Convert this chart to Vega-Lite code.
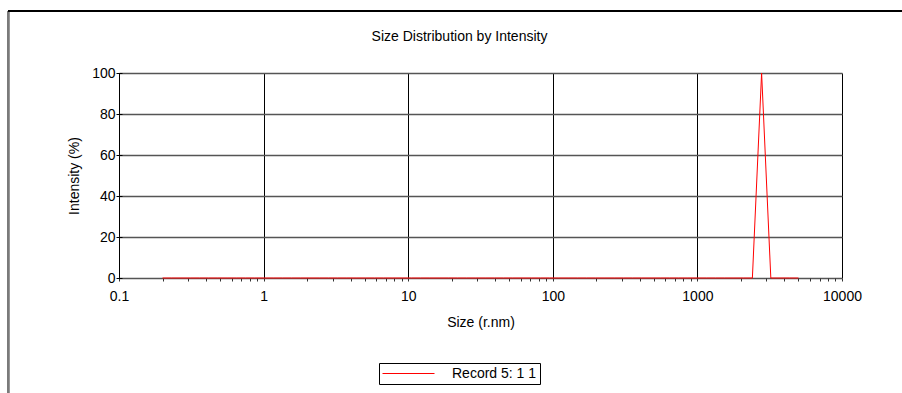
{
  "$schema": "https://vega.github.io/schema/vega-lite/v6.json",
  "width": 723,
  "height": 205,
  "autosize": {"type": "none"},
  "padding": {"left": 119, "top": 73, "right": 60, "bottom": 115},
  "background": "white",
  "config": {
    "view": {"stroke": null},
    "font": "Liberation Sans",
    "axis": {
      "labelFont": "Liberation Sans",
      "labelFontSize": 14,
      "labelColor": "#000000",
      "titleFont": "Liberation Sans",
      "titleFontSize": 14,
      "titleFontWeight": "normal",
      "titleColor": "#000000"
    }
  },
  "title": {
    "text": "Size Distribution by Intensity",
    "font": "Liberation Sans",
    "fontSize": 14,
    "fontWeight": "normal",
    "color": "#000000",
    "anchor": "middle",
    "baseline": "alphabetic",
    "dx": -21,
    "offset": -45
  },
  "data": {
    "values": [
      {"size": 0.2, "intensity": 0},
      {"size": 0.2317, "intensity": 0},
      {"size": 0.2683, "intensity": 0},
      {"size": 0.3107, "intensity": 0},
      {"size": 0.3598, "intensity": 0},
      {"size": 0.4167, "intensity": 0},
      {"size": 0.4826, "intensity": 0},
      {"size": 0.5589, "intensity": 0},
      {"size": 0.6472, "intensity": 0},
      {"size": 0.7495, "intensity": 0},
      {"size": 0.868, "intensity": 0},
      {"size": 1.005, "intensity": 0},
      {"size": 1.164, "intensity": 0},
      {"size": 1.348, "intensity": 0},
      {"size": 1.561, "intensity": 0},
      {"size": 1.807, "intensity": 0},
      {"size": 2.093, "intensity": 0},
      {"size": 2.424, "intensity": 0},
      {"size": 2.807, "intensity": 0},
      {"size": 3.251, "intensity": 0},
      {"size": 3.765, "intensity": 0},
      {"size": 4.36, "intensity": 0},
      {"size": 5.049, "intensity": 0},
      {"size": 5.847, "intensity": 0},
      {"size": 6.771, "intensity": 0},
      {"size": 7.842, "intensity": 0},
      {"size": 9.081, "intensity": 0},
      {"size": 10.52, "intensity": 0},
      {"size": 12.18, "intensity": 0},
      {"size": 14.11, "intensity": 0},
      {"size": 16.34, "intensity": 0},
      {"size": 18.92, "intensity": 0},
      {"size": 21.91, "intensity": 0},
      {"size": 25.37, "intensity": 0},
      {"size": 29.38, "intensity": 0},
      {"size": 34.03, "intensity": 0},
      {"size": 39.41, "intensity": 0},
      {"size": 45.64, "intensity": 0},
      {"size": 52.85, "intensity": 0},
      {"size": 61.21, "intensity": 0},
      {"size": 70.89, "intensity": 0},
      {"size": 82.09, "intensity": 0},
      {"size": 95.07, "intensity": 0},
      {"size": 110.1, "intensity": 0},
      {"size": 127.5, "intensity": 0},
      {"size": 147.7, "intensity": 0},
      {"size": 171.0, "intensity": 0},
      {"size": 198.1, "intensity": 0},
      {"size": 229.4, "intensity": 0},
      {"size": 265.6, "intensity": 0},
      {"size": 307.6, "intensity": 0},
      {"size": 356.2, "intensity": 0},
      {"size": 412.6, "intensity": 0},
      {"size": 477.8, "intensity": 0},
      {"size": 553.3, "intensity": 0},
      {"size": 640.8, "intensity": 0},
      {"size": 742.1, "intensity": 0},
      {"size": 859.4, "intensity": 0},
      {"size": 995.0, "intensity": 0},
      {"size": 1152, "intensity": 0},
      {"size": 1335, "intensity": 0},
      {"size": 1546, "intensity": 0},
      {"size": 1790, "intensity": 0},
      {"size": 2073, "intensity": 0},
      {"size": 2400, "intensity": 0},
      {"size": 2780, "intensity": 100},
      {"size": 3219, "intensity": 0},
      {"size": 3728, "intensity": 0},
      {"size": 4318, "intensity": 0},
      {"size": 5000, "intensity": 0}
    ]
  },
  "layer": [
    {
      "description": "Outer frame: left edge",
      "mark": {"type": "rule", "clip": false, "color": "#7a7a7a", "strokeWidth": 2},
      "encoding": {
        "x": {"datum": 0.01708, "type": "quantitative"},
        "y": {"datum": 130.24, "type": "quantitative"},
        "y2": {"datum": -60}
      }
    },
    {
      "description": "Outer frame: top edge",
      "mark": {"type": "rule", "clip": false, "color": "#000000", "strokeWidth": 1},
      "encoding": {
        "x": {"datum": 0.01708, "type": "quantitative"},
        "x2": {"datum": 30000},
        "y": {"datum": 130.24, "type": "quantitative"}
      }
    },
    {
      "mark": {"type": "line", "strokeWidth": 1, "clip": false},
      "encoding": {
        "x": {
          "field": "size",
          "type": "quantitative",
          "title": "Size (r.nm)",
          "scale": {"type": "log", "domain": [0.1, 10000], "nice": false},
          "axis": {
            "values": [0.1, 0.2, 0.3, 0.4, 0.5, 0.6, 0.7, 0.8, 0.9,
                       1, 2, 3, 4, 5, 6, 7, 8, 9,
                       10, 20, 30, 40, 50, 60, 70, 80, 90,
                       100, 200, 300, 400, 500, 600, 700, 800, 900,
                       1000, 2000, 3000, 4000, 5000, 6000, 7000, 8000, 9000, 10000],
            "format": "~g",
            "labelExpr": "abs(log(datum.value)/LN10 - round(log(datum.value)/LN10)) < 0.001 ? datum.label : ''",
            "labelFlush": false,
            "labelOverlap": false,
            "labelPadding": 8,
            "domain": false,
            "tickSize": 3,
            "tickColor": "#333333",
            "grid": true,
            "gridColor": "#000000",
            "gridWidth": 1,
            "gridOpacity": {
              "condition": {"test": "abs(log(datum.value)/LN10 - round(log(datum.value)/LN10)) < 0.001", "value": 1},
              "value": 0
            },
            "titlePadding": 12
          }
        },
        "y": {
          "field": "intensity",
          "type": "quantitative",
          "title": "Intensity (%)",
          "scale": {"domain": [0, 100], "nice": false, "zero": false},
          "axis": {
            "values": [0, 10, 20, 30, 40, 50, 60, 70, 80, 90, 100],
            "labelExpr": "datum.value % 20 == 0 ? datum.label : ''",
            "labelPadding": 1,
            "labelOverlap": false,
            "labelFlush": false,
            "domain": false,
            "offset": -3,
            "tickSize": 6,
            "tickColor": "#000000",
            "grid": true,
            "gridColor": "#555555",
            "gridWidth": 1.3,
            "gridOpacity": {
              "condition": {"test": "datum.value % 20 == 0", "value": 1},
              "value": 0
            },
            "titlePadding": 10
          }
        },
        "color": {
          "datum": "Record 5: 1 1",
          "type": "nominal",
          "scale": {"range": ["#ff0000"]},
          "legend": {
            "orient": "none",
            "legendX": 260,
            "legendY": 290,
            "title": null,
            "symbolType": "stroke",
            "symbolSize": 2704,
            "symbolStrokeWidth": 1,
            "labelFont": "Liberation Sans",
            "labelFontSize": 14,
            "labelColor": "#000000",
            "labelOffset": 17,
            "padding": 3,
            "clipHeight": 15,
            "strokeColor": "#000000",
            "fillColor": "#ffffff"
          }
        }
      }
    }
  ]
}
